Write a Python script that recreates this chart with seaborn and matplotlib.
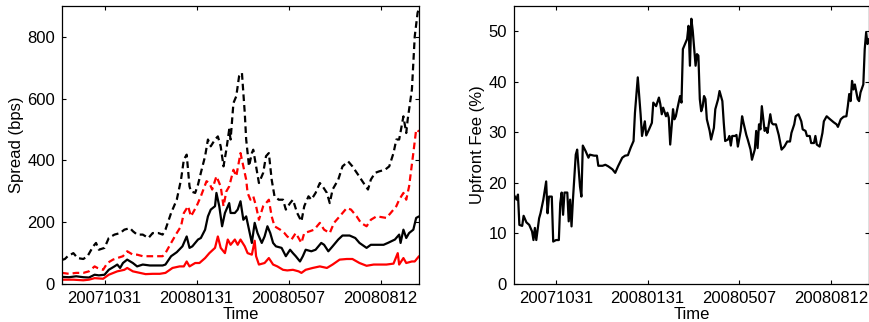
import numpy as np
import pandas as pd
import matplotlib
matplotlib.use("Agg")
import matplotlib.pyplot as plt
import seaborn as sns

# x axis = trading day index, labels at selected dates
tick_obs = [30, 95, 160, 225]
tick_labels = ["20071031", "20080131", "20080507", "20080812"]

# left panel: spreads (bps)
obs_hi_dash = [0, 2, 4, 8, 11, 15, 18, 22, 24, 26, 30, 33, 37, 41, 44, 48, 50, 53, 57, 61, 64, 68, 71, 73, 77, 81,
               84, 86, 88, 90, 91, 94, 96, 98, 101, 103, 105, 108, 110, 112, 114, 116, 118, 119, 121, 123, 125, 127,
               129, 130, 132, 134, 135, 137, 139, 142, 144, 146, 148, 150, 153, 156, 158, 161, 163, 166, 169, 171,
               174, 176, 179, 182, 184, 187, 189, 191, 195, 198, 202, 205, 209, 212, 216, 218, 221, 224, 228, 231,
               234, 236, 238, 241, 243, 244, 247, 249, 251, 252]
spread_hi_dash = [78, 81, 90, 100, 84, 81, 90, 122, 133, 111, 117, 149, 160, 165, 176, 181, 171, 160, 160, 149, 165,
                  165, 160, 176, 230, 273, 338, 403, 419, 316, 300, 295, 322, 360, 414, 468, 446, 468, 478, 446, 381,
                  435, 500, 468, 586, 608, 673, 684, 554, 468, 381, 424, 435, 381, 327, 360, 414, 424, 338, 284, 273,
                  273, 241, 262, 273, 230, 203, 252, 284, 273, 295, 327, 316, 295, 262, 306, 338, 381, 397, 381, 354,
                  333, 306, 338, 360, 365, 370, 381, 424, 468, 468, 543, 489, 532, 630, 802, 878, 894]

obs_lo_dash = [0, 5, 10, 15, 19, 23, 25, 29, 32, 36, 39, 43, 46, 50, 53, 57, 61, 64, 68, 71, 73, 77, 81, 84, 86, 89,
               91, 95, 98, 102, 104, 106, 109, 112, 114, 116, 118, 121, 123, 126, 128, 130, 131, 133, 135, 137, 139,
               142, 144, 146, 148, 150, 154, 157, 159, 162, 165, 169, 171, 175, 178, 182, 185, 189, 192, 196, 201,
               204, 208, 211, 215, 218, 222, 225, 229, 232, 236, 238, 241, 243, 245, 248, 250, 252]
spread_lo_dash = [36, 33, 36, 36, 41, 57, 52, 46, 68, 79, 84, 90, 106, 95, 95, 90, 90, 90, 90, 90, 100, 133, 165,
                  187, 230, 252, 219, 252, 284, 333, 327, 306, 349, 316, 252, 300, 316, 370, 349, 424, 381, 338, 295,
                  273, 284, 252, 208, 252, 262, 273, 219, 187, 176, 165, 154, 144, 165, 133, 165, 171, 176, 198, 176,
                  165, 198, 219, 246, 241, 219, 198, 187, 208, 219, 217, 214, 230, 252, 273, 295, 273, 316, 424, 500,
                  494]

obs_hi_solid = [0, 5, 10, 15, 19, 23, 26, 30, 33, 37, 39, 41, 43, 46, 50, 53, 57, 62, 66, 71, 73, 77, 81, 85, 88,
                90, 92, 96, 98, 101, 103, 105, 108, 109, 111, 113, 115, 118, 119, 122, 124, 126, 128, 130, 132, 134,
                136, 138, 141, 143, 145, 147, 149, 151, 155, 158, 161, 163, 165, 168, 170, 172, 176, 179, 183, 185,
                188, 191, 195, 198, 203, 207, 210, 215, 218, 222, 227, 230, 235, 238, 239, 241, 243, 245, 248, 250,
                252]
spread_hi_solid = [23, 22, 25, 22, 21, 30, 28, 30, 46, 57, 63, 52, 68, 79, 68, 57, 63, 60, 60, 60, 63, 90, 103, 122,
                   154, 117, 122, 144, 149, 176, 219, 241, 252, 295, 252, 187, 230, 262, 230, 230, 241, 268, 208, 219,
                   176, 133, 198, 165, 133, 154, 187, 165, 133, 122, 117, 90, 111, 100, 90, 73, 90, 111, 106, 111, 133,
                   127, 106, 122, 144, 157, 157, 149, 133, 117, 127, 127, 127, 133, 144, 160, 133, 176, 149, 165, 176,
                   214, 219]

obs_lo_solid = [0, 8, 15, 19, 23, 29, 33, 39, 44, 46, 50, 55, 59, 64, 69, 73, 78, 83, 86, 88, 90, 94, 97, 101, 104,
                108, 110, 112, 115, 117, 119, 122, 124, 126, 129, 131, 134, 136, 137, 139, 143, 146, 149, 152, 156,
                159, 163, 167, 169, 172, 177, 182, 187, 191, 196, 201, 205, 210, 215, 220, 224, 229, 234, 237, 238,
                241, 243, 247, 249, 252]
spread_lo_solid = [14, 14, 12, 14, 19, 17, 30, 41, 46, 52, 41, 36, 32, 33, 33, 36, 52, 57, 57, 73, 57, 68, 68, 84,
                   100, 117, 154, 117, 100, 144, 127, 144, 127, 144, 122, 100, 95, 140, 90, 63, 68, 84, 63, 57, 46, 44,
                   46, 41, 36, 46, 52, 57, 52, 63, 79, 81, 81, 68, 59, 63, 63, 63, 66, 100, 63, 84, 68, 73, 73, 90]

# right panel: upfront fee (%)
obs_fee = [0, 2, 3, 4, 6, 7, 9, 11, 13, 14, 15, 16, 18, 19, 21, 23, 24, 25, 27, 28, 30, 32, 33, 34, 35, 36, 38, 39,
           40, 41, 42, 44, 45, 47, 48, 49, 51, 53, 54, 57, 59, 60, 63, 65, 67, 70, 72, 74, 77, 79, 81, 83, 85, 86, 88,
           90, 91, 93, 94, 96, 98, 99, 101, 103, 104, 105, 106, 108, 109, 110, 111, 113, 114, 115, 116, 118, 119, 120,
           122, 123, 124, 125, 126, 127, 129, 130, 131, 132, 133, 134, 135, 136, 137, 139, 140, 142, 143, 145, 146,
           148, 149, 150, 152, 153, 154, 155, 157, 158, 159, 161, 162, 163, 165, 166, 168, 169, 171, 172, 173, 174,
           175, 176, 178, 179, 180, 182, 183, 184, 186, 188, 189, 190, 192, 194, 196, 197, 199, 200, 202, 204, 205,
           207, 208, 210, 211, 213, 214, 215, 217, 219, 220, 222, 224, 227, 229, 230, 232, 234, 236, 237, 238, 239,
           240, 241, 242, 244, 245, 246, 248, 249, 250, 251, 252]
upfront_fee = [17.7, 16.7, 17.7, 11.7, 11.5, 13.5, 12.2, 11.7, 10.4, 8.7, 11.1, 8.7, 13.0, 14.0, 16.7, 20.3, 14.0,
               17.3, 17.3, 8.4, 8.7, 8.7, 16.0, 18.1, 13.7, 18.1, 18.1, 12.4, 16.7, 11.4, 16.7, 25.6, 26.6, 19.3,
               17.3, 27.4, 26.3, 25.0, 25.6, 25.4, 25.4, 23.4, 23.4, 23.6, 23.3, 22.7, 22.0, 23.3, 25.0, 25.4, 25.5,
               27.0, 28.3, 33.9, 40.9, 33.6, 29.3, 32.2, 29.4, 30.6, 31.9, 35.9, 35.2, 36.9, 35.6, 33.6, 34.9, 33.2,
               33.9, 32.9, 27.6, 34.6, 32.6, 33.2, 34.6, 37.2, 35.9, 46.5, 47.8, 48.5, 51.1, 43.2, 52.5, 50.1, 43.2,
               45.5, 45.2, 36.6, 34.2, 35.1, 37.2, 36.6, 32.6, 30.3, 28.6, 30.9, 34.6, 36.6, 38.2, 36.2, 31.9, 28.3,
               28.6, 29.3, 27.4, 29.3, 29.3, 29.5, 27.2, 30.3, 33.2, 31.9, 29.5, 28.6, 26.6, 24.6, 26.6, 30.3, 26.9,
               31.6, 30.6, 35.2, 30.3, 30.9, 29.9, 33.6, 31.9, 31.6, 31.6, 29.5, 28.0, 26.6, 27.2, 28.2, 28.2, 29.9,
               31.6, 33.2, 33.6, 32.2, 30.6, 30.3, 29.3, 29.3, 27.9, 27.9, 29.3, 27.6, 27.2, 29.9, 32.2, 33.2, 32.7,
               32.0, 31.6, 31.1, 32.6, 33.1, 33.2, 35.2, 37.6, 36.2, 40.2, 38.5, 39.5, 36.6, 36.2, 37.9, 39.5, 46.5,
               49.8, 47.5, 48.5]

sns.set_style("ticks")
plt.rcParams["font.family"] = ["Liberation Sans", "DejaVu Sans"]
plt.rcParams["font.size"] = 12
for key in ["text.color", "axes.labelcolor", "xtick.color", "ytick.color", "axes.edgecolor"]:
    plt.rcParams[key] = "black"

fig = plt.figure(figsize=(8.7, 3.22), dpi=100)
ax1 = fig.add_axes([0.0713, 0.118, 0.4103, 0.863])
ax2 = fig.add_axes([0.5905, 0.118, 0.4083, 0.863])

dash = (0, (3, 1.8))
lw = 1.6
series = [
    (obs_hi_dash, spread_hi_dash, "black", dash),
    (obs_lo_dash, spread_lo_dash, "red", dash),
    (obs_hi_solid, spread_hi_solid, "black", "-"),
    (obs_lo_solid, spread_lo_solid, "red", "-"),
]
for xs, ys, col, ls in series:
    sns.lineplot(x=xs, y=ys, ax=ax1, color=col, linewidth=lw, linestyle=ls, estimator=None, sort=False)

sns.lineplot(x=obs_fee, y=upfront_fee, ax=ax2, color="black", linewidth=lw, estimator=None, sort=False)

for ax in (ax1, ax2):
    ax.set_xlim(0, 252)
    ax.set_xticks(tick_obs)
    ax.set_xticklabels(tick_labels)
    ax.set_xlabel("Time", labelpad=0.5)
    ax.tick_params(direction="in", top=True, right=True, length=3, width=0.8, labelsize=12, pad=5,
                   colors="black")
    for spine in ax.spines.values():
        spine.set_visible(True)
        spine.set_color("black")
        spine.set_linewidth(0.9)
    ax.grid(False)

ax1.set_ylim(0, 900)
ax1.set_yticks([0, 200, 400, 600, 800])
ax1.set_ylabel("Spread (bps)", labelpad=2)

ax2.set_ylim(0, 55)
ax2.set_yticks([0, 10, 20, 30, 40, 50])
ax2.set_ylabel("Upfront Fee (%)", labelpad=2)

fig.savefig("out.png", dpi=100)
